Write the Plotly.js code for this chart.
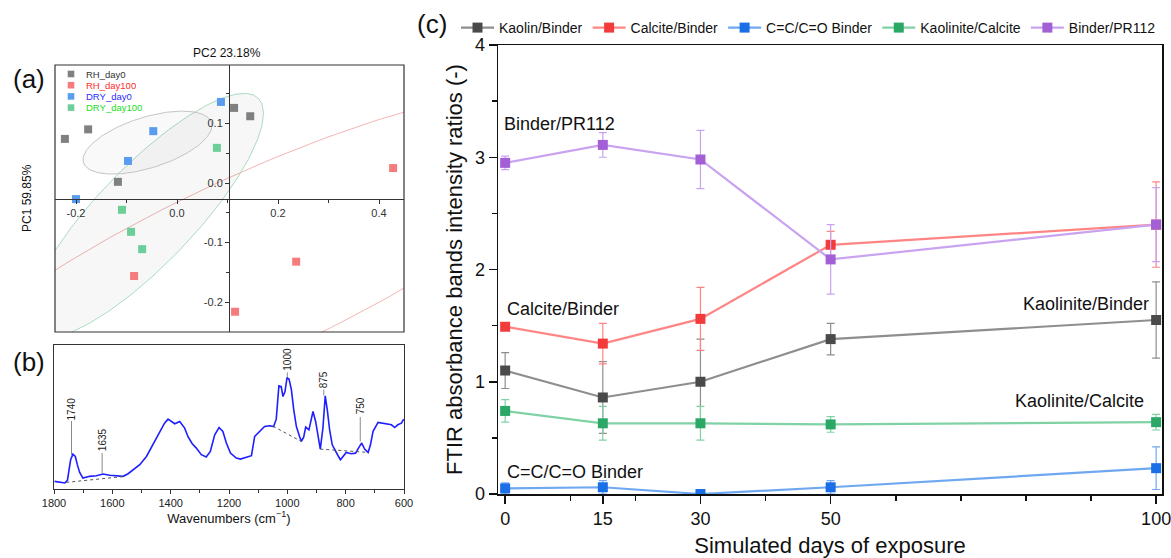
<!DOCTYPE html>
<html><head><meta charset="utf-8">
<script src="https://cdn.plot.ly/plotly-3.0.1.min.js"></script>
<style>html,body{margin:0;padding:0;background:#fff}#chart{width:1171px;height:558px}</style>
</head><body><div id="chart"></div>
<script>
// ---------- Panel (a): PCA scores ----------
const rhDay0X = [-0.222, -0.176, 0.113, 0.145, -0.117];
const rhDay0Y = [0.074, 0.090, 0.126, 0.112, 0.002];
const rhDay100X = [0.428, -0.085, 0.236, 0.115];
const rhDay100Y = [0.025, -0.156, -0.132, -0.216];
const dryDay0X = [0.087, -0.047, -0.097, -0.200];
const dryDay0Y = [0.136, 0.087, 0.037, -0.027];
const dryDay100X = [0.079, -0.109, -0.091, -0.069];
const dryDay100Y = [0.059, -0.045, -0.082, -0.111];
// confidence ellipses: centre, two conjugate semi-axis vectors
const grayEllC = [-0.0584, 0.0678], grayEllU = [0.1277, 0.0286], grayEllV = [0.0, 0.0444];
const greenEllC = [-0.063, -0.055], greenEllU = [0.2234, 0.1975], greenEllV = [-0.0700, 0.0560];
const redEllC = [0.1446, -0.1407], redEllU = [0.6766, 0.2668], redEllV = [-0.0753, 0.1367];
const pcaXTicks = [-0.2, 0, 0.2, 0.4], pcaXTickText = ['-0.2', '0.0', '0.2', '0.4'];
const pcaYTicks = [-0.2, -0.1, 0, 0.1], pcaYTickText = ['-0.2', '-0.1', '0.0', '0.1'];
const pcaGroups = ['RH_day0', 'RH_day100', 'DRY_day0', 'DRY_day100'];

// ---------- Panel (b): FTIR spectrum ----------
const wavenumbers = [1798,1781,1763,1754,1749,1743,1735,1727,1720,1712,1701,1678,1655,1632,1609,1586,1563,1546,1529,1506,1483,1461,1438,1421,1409,1398,1386,1369,1352,1341,1326,1312,1295,1278,1264,1249,1234,1221,1209,1195,1175,1161,1141,1123,1112,1095,1078,1061,1047,1038,1029,1021,1015,1008,1001,994,986,978,969,958,952,944,937,926,918,912,903,895,887,878,870,863,855,846,834,826,818,809,798,781,766,754,745,735,723,715,706,689,672,655,643,632,621,609,601];
const absorbance = [0.053,0.046,0.042,0.060,0.122,0.203,0.242,0.226,0.169,0.115,0.076,0.088,0.092,0.104,0.095,0.090,0.088,0.106,0.134,0.169,0.226,0.307,0.400,0.457,0.485,0.467,0.453,0.469,0.423,0.365,0.314,0.284,0.238,0.222,0.261,0.376,0.427,0.400,0.319,0.249,0.215,0.208,0.219,0.231,0.365,0.400,0.434,0.439,0.434,0.485,0.716,0.711,0.642,0.677,0.774,0.762,0.688,0.550,0.434,0.365,0.330,0.360,0.430,0.411,0.480,0.538,0.469,0.365,0.277,0.423,0.647,0.550,0.411,0.307,0.254,0.231,0.203,0.226,0.254,0.245,0.249,0.291,0.319,0.277,0.254,0.307,0.400,0.462,0.457,0.450,0.446,0.427,0.446,0.457,0.485];
const base1X = [1758, 1555], base1Y = [0.046, 0.088];
const base2X = [1049, 952], base2Y = [0.436, 0.330];
const base3X = [887, 728], base3Y = [0.277, 0.255];
const peakLabels = ['1740', '1635', '1000', '875', '750'];
const peakPos = [1740, 1635, 1000, 875, 750];
const peakLineLo = [0.236, 0.111, 0.778, 0.650, 0.330];
const peakLineHi = [0.472, 0.250, 0.810, 0.690, 0.500];
const peakLabelY = [0.556, 0.340, 0.900, 0.760, 0.576];
const ftirTicks = [1800, 1600, 1400, 1200, 1000, 800, 600];

// ---------- Panel (c): band ratios ----------
const days = [0, 15, 30, 50, 100];
const kaolinBinder = [1.10, 0.86, 1.00, 1.38, 1.55];
const kaolinBinderErr = [0.16, 0.32, 0.38, 0.14, 0.34];
const calciteBinder = [1.49, 1.34, 1.56, 2.22, 2.40];
const calciteBinderErr = [0.03, 0.18, 0.28, 0.12, 0.38];
const ccBinder = [0.05, 0.06, 0.00, 0.06, 0.23];
const ccBinderErr = [0.05, 0.06, 0.01, 0.06, 0.19];
const kaoliniteCalcite = [0.74, 0.63, 0.63, 0.62, 0.64];
const kaoliniteCalciteErr = [0.10, 0.15, 0.15, 0.07, 0.07];
const binderPR112 = [2.95, 3.11, 2.98, 2.09, 2.40];
const binderPR112Err = [0.06, 0.11, 0.26, 0.31, 0.33];
const dayTicks = [0, 15, 30, 50, 100];
const dayMinorTicks = [10, 20, 40, 60, 70, 80, 90];

const FONT = 'Liberation Sans, Arial, Helvetica, sans-serif';

function ellipse(c, u, v) {
  const xs = [], ys = [];
  for (let i = 0; i <= 200; i++) {
    const t = 2 * Math.PI * i / 200;
    xs.push(c[0] + u[0] * Math.cos(t) + v[0] * Math.sin(t));
    ys.push(c[1] + u[1] * Math.cos(t) + v[1] * Math.sin(t));
  }
  return {xs, ys};
}

const traces = [];
// ellipses
[[redEllC, redEllU, redEllV, '#f5b5b5', 'rgba(0,0,0,0)'],
 [greenEllC, greenEllU, greenEllV, '#a9dcc1', 'rgba(0,0,0,0.03)'],
 [grayEllC, grayEllU, grayEllV, '#c4c4c4', 'rgba(0,0,0,0.025)']].forEach(e => {
  const p = ellipse(e[0], e[1], e[2]);
  traces.push({x: p.xs, y: p.ys, xaxis: 'x2', yaxis: 'y2', mode: 'lines', fill: 'toself',
    fillcolor: e[4], line: {color: e[3], width: 1}, showlegend: false, hoverinfo: 'skip'});
});
const pcaSets = [
  [pcaGroups[0], '#333333', rhDay0X, rhDay0Y, '#808080'],
  [pcaGroups[1], '#ff2a2a', rhDay100X, rhDay100Y, '#f47c7c'],
  [pcaGroups[2], '#2a2aff', dryDay0X, dryDay0Y, '#5a9cf0'],
  [pcaGroups[3], '#22dd22', dryDay100X, dryDay100Y, '#6ccf99']
];
pcaSets.forEach(s => {
  traces.push({x: s[2], y: s[3], xaxis: 'x2', yaxis: 'y2', mode: 'markers', name: s[0], showlegend: false,
    marker: {symbol: 'square', size: 8, color: s[4]}});
});

// spectrum
traces.push({x: wavenumbers, y: absorbance, xaxis: 'x3', yaxis: 'y3', mode: 'lines',
  line: {color: '#1f1fff', width: 1.6}, showlegend: false});
[[base1X, base1Y], [base2X, base2Y], [base3X, base3Y]].forEach(b => {
  traces.push({x: b[0], y: b[1], xaxis: 'x3', yaxis: 'y3', mode: 'lines',
    line: {color: '#555', width: 1, dash: 'dot'}, showlegend: false});
});

// ratios
const ratioSets = [
  ['Kaolin/Binder', kaolinBinder, kaolinBinderErr, '#8e8e8e', '#4a4a4a'],
  ['Calcite/Binder', calciteBinder, calciteBinderErr, '#ff8585', '#f23b3b'],
  ['C=C/C=O Binder', ccBinder, ccBinderErr, '#6fa8f0', '#1a6ee6'],
  ['Kaolinite/Calcite', kaoliniteCalcite, kaoliniteCalciteErr, '#80d2a5', '#2ba866'],
  ['Binder/PR112', binderPR112, binderPR112Err, '#c9a3f0', '#a35fd6']
];
ratioSets.forEach(s => {
  traces.push({x: days, y: s[1], xaxis: 'x', yaxis: 'y', mode: 'lines+markers', name: s[0],
    line: {color: s[3], width: 2.2}, marker: {symbol: 'square', size: 10, color: s[4]},
    error_y: {type: 'data', array: s[2], visible: true, color: s[3], thickness: 1.2, width: 4}});
});

function pa(text, px, py, size, extra) {
  return Object.assign({text: text, x: px / 1171, y: 1 - py / 558, xref: 'paper', yref: 'paper',
    xanchor: 'center', yanchor: 'middle', showarrow: false, font: {size: size}}, extra || {});
}
const annotations = [
  pa('(a)', 29, 79, 26), pa('(b)', 29, 362, 26), pa('(c)', 432, 24, 26),
  pa('PC2 23.18%', 227, 53, 12),
  pa('PC1 59.85%', 27, 198, 12, {textangle: -90}),
  {text: 'Binder/PR112', x: -0.46, y: 3.30, xref: 'x', yref: 'y', xanchor: 'left', showarrow: false, font: {size: 18}},
  {text: 'Calcite/Binder', x: 0, y: 1.65, xref: 'x', yref: 'y', xanchor: 'left', showarrow: false, font: {size: 18}},
  {text: 'C=C/C=O Binder', x: 0, y: 0.196, xref: 'x', yref: 'y', xanchor: 'left', showarrow: false, font: {size: 18}},
  {text: 'Kaolinite/Binder', x: 99.2, y: 1.69, xref: 'x', yref: 'y', xanchor: 'right', showarrow: false, font: {size: 18}},
  {text: 'Kaolinite/Calcite', x: 98.5, y: 0.833, xref: 'x', yref: 'y', xanchor: 'right', showarrow: false, font: {size: 18}}
];
peakLabels.forEach((t, i) => {
  annotations.push({text: t, x: peakPos[i], y: peakLabelY[i], xref: 'x3', yref: 'y3', textangle: -90,
    xanchor: 'center', yanchor: 'middle', showarrow: false, font: {size: 10, color: '#222'}});
});
const shapes = [
  {type: 'rect', xref: 'x2 domain', yref: 'y2 domain', x0: 0, x1: 1, y0: 0, y1: 1, line: {color: '#333', width: 1.2}}
];
// panel (a) legend (compact, as in the reference)
pcaSets.forEach((s, i) => {
  const cy = 74 + 11.2 * i;
  shapes.push({type: 'rect', xref: 'paper', yref: 'paper', x0: 67.7 / 1171, x1: 74.3 / 1171,
    y0: 1 - (cy + 3.3) / 558, y1: 1 - (cy - 3.3) / 558, line: {width: 0}, fillcolor: s[4]});
  annotations.push(pa(s[0], 84, cy, 9.5, {xanchor: 'left', font: {size: 9.5, color: s[1]}}));
});
peakPos.forEach((p, i) => {
  shapes.push({type: 'line', xref: 'x3', yref: 'y3', x0: p, x1: p, y0: peakLineLo[i], y1: peakLineHi[i],
    line: {color: '#8a8a8a', width: 1}});
});

const layout = {
  width: 1171, height: 558, margin: {l: 0, r: 0, t: 0, b: 0},
  paper_bgcolor: '#fff', plot_bgcolor: 'rgba(0,0,0,0)',
  font: {family: FONT, color: '#111'},
  showlegend: true,
  legend: {orientation: 'h', x: 456/1171, y: 1 - 28/558, xanchor: 'left', yanchor: 'middle', itemwidth: 33,
    font: {size: 14}, bgcolor: 'rgba(0,0,0,0)', traceorder: 'normal'},
  xaxis: {domain: [498/1171, 1162/1171], anchor: 'y', range: [-1.1, 100.9], tickvals: dayTicks,
    ticks: 'outside', ticklen: 8, tickwidth: 1.5, tickcolor: '#111', showline: true, linewidth: 1.5, linecolor: '#111',
    mirror: true, showgrid: false, zeroline: false, tickfont: {size: 18}, ticklabeloverflow: 'allow',
    minor: {tickvals: dayMinorTicks, ticks: 'outside', ticklen: 5, tickwidth: 1.5, tickcolor: '#111'},
    title: {text: 'Simulated days of exposure', font: {size: 22}, standoff: 12}},
  yaxis: {domain: [1 - 494/558, 1 - 45/558], anchor: 'x', range: [0, 4], tickvals: [0, 1, 2, 3, 4],
    ticks: 'outside', ticklen: 8, tickwidth: 1.5, tickcolor: '#111', showline: true, linewidth: 1.5, linecolor: '#111',
    mirror: true, showgrid: false, zeroline: false, tickfont: {size: 18}, ticklabeloverflow: 'allow',
    minor: {tickvals: [0.5, 1.5, 2.5, 3.5], ticks: 'outside', ticklen: 5, tickwidth: 1.5, tickcolor: '#111'},
    title: {text: 'FTIR absorbance bands intensity ratios (-)', font: {size: 22}, standoff: 6}},
  xaxis2: {domain: [55/1171, 404/1171], anchor: 'free', position: 1 - 199/558, range: [-0.2416, 0.4495],
    tickvals: pcaXTicks, ticktext: pcaXTickText, ticks: 'outside', ticklen: 4, tickcolor: '#333',
    showline: true, linewidth: 1.2, linecolor: '#333', showgrid: false, zeroline: false, tickfont: {size: 11, color: '#333'},
    minor: {tickvals: [-0.1, 0.1, 0.3], ticks: 'outside', ticklen: 3, tickcolor: '#333'}},
  yaxis2: {domain: [1 - 332/558, 1 - 65/558], anchor: 'free', position: 229/1171, range: [-0.25, 0.198],
    tickvals: pcaYTicks, ticktext: pcaYTickText, ticks: 'outside', ticklen: 4, tickcolor: '#333',
    showline: true, linewidth: 1.2, linecolor: '#333', showgrid: false, zeroline: false, tickfont: {size: 11, color: '#333'},
    minor: {tickvals: [-0.15, -0.05, 0.05, 0.15], ticks: 'outside', ticklen: 3, tickcolor: '#333'}},
  xaxis3: {domain: [54/1171, 404/1171], anchor: 'y3', range: [1800, 600], tickvals: ftirTicks,
    ticks: 'outside', ticklen: 4, tickcolor: '#333', showline: true, mirror: true, linewidth: 1.2, linecolor: '#333',
    showgrid: false, zeroline: false, tickfont: {size: 11, color: '#222'}, ticklabeloverflow: 'allow',
    minor: {dtick: 100, tick0: 1800, ticks: 'outside', ticklen: 3, tickcolor: '#333'},
    title: {text: 'Wavenumbers (cm<sup>−1</sup>)', font: {size: 13}, standoff: 2}},
  yaxis3: {domain: [1 - 489/558, 1 - 345/558], anchor: 'x3', range: [0, 1], showticklabels: false, ticks: '',
    showline: true, mirror: true, linewidth: 1.2, linecolor: '#333', showgrid: false, zeroline: false},
  annotations: annotations,
  shapes: shapes
};

Plotly.newPlot('chart', traces, layout, {displayModeBar: false, staticPlot: true});
</script>
</body></html>
